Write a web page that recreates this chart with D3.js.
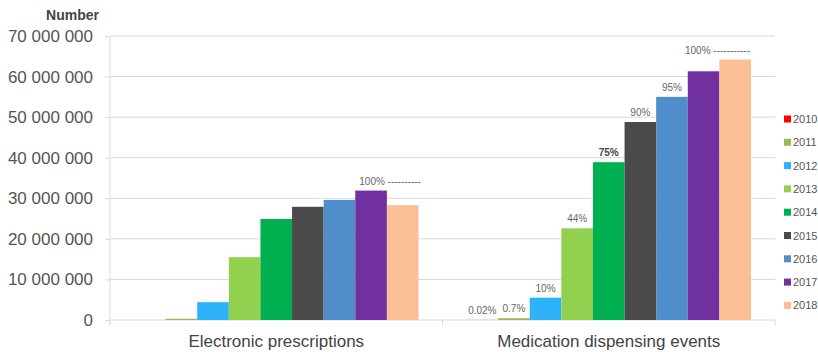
<!DOCTYPE html>
<html>
<head>
<meta charset="utf-8">
<script src="https://cdn.jsdelivr.net/npm/d3@7"></script>
<style>
  body { margin: 0; background: #fff; }
  svg { font-family: "Liberation Sans", Arial, sans-serif; }
</style>
</head>
<body>
<div id="grafico"></div>
<script>
// Dados
const categorias = ['Electronic prescriptions', 'Medication dispensing events'];
const anos = ['2010', '2011', '2012', '2013', '2014', '2015', '2016', '2017', '2018'];
const prescricoes = [0, 300000, 4400000, 15500000, 24900000, 27900000, 29600000, 31900000, 28300000];
const dispensacoes = [15000, 450000, 5500000, 22600000, 38900000, 48800000, 55000000, 61300000, 64200000];
const rotulosPrescricoes = ['', '', '', '', '', '', '', '100% ----------', ''];
const rotulosDispensacoes = ['0.02%', '0.7%', '10%', '44%', '75%', '90%', '95%', '', '100% -----------'];
const cores = ['#ff0000', '#9bbb59', '#2db2fb', '#92d050', '#00b050', '#4a4a4a', '#4f8dcb', '#7030a0', '#fcbf95'];
const ticksY = [0, 10000000, 20000000, 30000000, 40000000, 50000000, 60000000, 70000000];

const largura = 818;
const altura = 352;
const margem = { top: 36, right: 43, bottom: 32, left: 110 };

const svg = d3
  .select('#grafico')
  .append('svg')
  .attr('width', largura)
  .attr('height', altura);

const g = svg.append('g').attr('transform', `translate(${margem.left},${margem.top})`);
const w = largura - margem.left - margem.right;
const h = altura - margem.top - margem.bottom;

const x0 = d3.scaleBand().domain(categorias).range([0, w]);
const x1 = d3.scaleBand().domain(anos).range([24, x0.bandwidth() - 24]);
const y = d3.scaleLinear().domain([0, 70000000]).range([h, 0]);
const cor = d3.scaleOrdinal().domain(anos).range(cores);

const fmt = (v) => d3.format(',')(v).replace(/,/g, ' ');

// Grade
g.append('g')
  .selectAll('line')
  .data(ticksY.slice(1))
  .enter()
  .append('line')
  .attr('x1', 0)
  .attr('x2', w)
  .attr('y1', (d) => y(d))
  .attr('y2', (d) => y(d))
  .attr('stroke', '#d9d9d9')
  .attr('stroke-width', 1);

// Eixo Y
const eixoY = g.append('g').call(d3.axisLeft(y).tickValues(ticksY).tickFormat(fmt).tickSize(5).tickPadding(12));
eixoY.select('.domain').attr('stroke', '#d9d9d9').attr('d', `M0,0V${h + 5}`);
eixoY.selectAll('.tick line').attr('stroke', '#d9d9d9');
eixoY.selectAll('text').attr('font-size', 17).attr('fill', '#555');

// Eixo X
const eixoX = g.append('g').attr('transform', `translate(0,${h})`);
eixoX.append('line').attr('x1', 0).attr('x2', w).attr('stroke', '#d9d9d9');
eixoX
  .selectAll('.sep')
  .data([0, x0.bandwidth(), w])
  .enter()
  .append('line')
  .attr('x1', (d) => d)
  .attr('x2', (d) => d)
  .attr('y1', 0)
  .attr('y2', 5)
  .attr('stroke', '#d9d9d9');
eixoX
  .selectAll('.cat')
  .data(categorias)
  .enter()
  .append('text')
  .attr('x', (d) => x0(d) + x0.bandwidth() / 2)
  .attr('y', 27)
  .attr('text-anchor', 'middle')
  .attr('font-size', 17)
  .attr('fill', '#444')
  .text((d) => d);

// Barras
const series = [prescricoes, dispensacoes];
const rotulos = [rotulosPrescricoes, rotulosDispensacoes];
const grupos = g
  .selectAll('.grupo')
  .data(categorias)
  .enter()
  .append('g')
  .attr('transform', (d) => `translate(${x0(d)},0)`);

grupos
  .selectAll('rect')
  .data((d, i) => anos.map((a, j) => ({ ano: a, valor: series[i][j] })))
  .enter()
  .append('rect')
  .attr('x', (d) => x1(d.ano))
  .attr('y', (d) => y(d.valor))
  .attr('width', x1.bandwidth())
  .attr('height', (d) => h - y(d.valor))
  .attr('fill', (d) => cor(d.ano));

// Rótulos
const ultimo = anos[anos.length - 1];
const posX = (d) => {
  if (!d.texto.startsWith('100%')) return x1(d.ano) + x1.bandwidth() / 2;
  return d.ano === ultimo ? x1(d.ano) + x1.bandwidth() - 1 : x1(d.ano) + 4;
};
const ancora = (d) => {
  if (!d.texto.startsWith('100%')) return 'middle';
  return d.ano === ultimo ? 'end' : 'start';
};
grupos
  .selectAll('.rotulo')
  .data((d, i) => anos.map((a, j) => ({ ano: a, valor: series[i][j], texto: rotulos[i][j] })).filter((d) => d.texto))
  .enter()
  .append('text')
  .attr('x', posX)
  .attr('y', (d) => y(d.valor) - 6)
  .attr('text-anchor', ancora)
  .attr('font-size', 10)
  .attr('font-weight', (d) => (d.texto === '75%' ? 'bold' : 'normal'))
  .attr('fill', (d) => (d.texto === '75%' ? '#444' : '#666'))
  .text((d) => d.texto);

// Título do eixo
svg
  .append('text')
  .attr('x', 99)
  .attr('y', 20)
  .attr('text-anchor', 'end')
  .attr('font-size', 14)
  .attr('font-weight', 'bold')
  .attr('fill', '#444')
  .text('Number');

// Legenda
const legenda = svg
  .selectAll('.legenda')
  .data(anos)
  .enter()
  .append('g')
  .attr('transform', (d, i) => `translate(784,${119 + i * 23.3})`);
legenda.append('rect').attr('x', 0).attr('y', -3.5).attr('width', 7).attr('height', 7).attr('fill', (d) => cor(d));
legenda
  .append('text')
  .attr('x', 9)
  .attr('y', 4)
  .attr('font-size', 11)
  .attr('fill', '#555')
  .text((d) => d);
</script>
</body>
</html>
